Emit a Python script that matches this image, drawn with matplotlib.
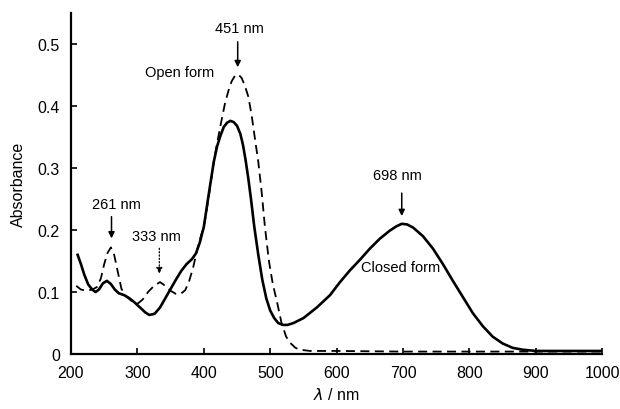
import matplotlib
matplotlib.use("Agg")
import matplotlib.pyplot as plt

plt.rcParams['font.family'] = ['Liberation Sans', 'DejaVu Sans']

# closed form (solid)
closed_wl = [210, 215, 220, 226, 232, 237, 242, 248, 254, 260, 266, 272, 280, 288,
             296, 304, 312, 318, 326, 334, 342, 350, 358, 366, 374, 382, 388, 394,
             400, 407, 415, 420, 425, 430, 435, 440, 445, 450, 455, 459, 463, 467,
             471, 476, 482, 488, 494, 500, 506, 512, 519, 526, 535, 550, 570, 590,
             605, 620, 635, 650, 665, 680, 690, 698, 706, 715, 730, 745, 760, 775,
             790, 805, 820, 835, 850, 865, 880, 900, 950, 1000]
closed_abs = [0.160, 0.145, 0.128, 0.112, 0.104, 0.100, 0.104, 0.114, 0.118, 0.113,
              0.104, 0.098, 0.095, 0.090, 0.083, 0.075, 0.067, 0.063, 0.065, 0.075,
              0.090, 0.105, 0.120, 0.134, 0.145, 0.153, 0.162, 0.180, 0.205, 0.255,
              0.310, 0.335, 0.352, 0.366, 0.373, 0.376, 0.374, 0.368, 0.355, 0.337,
              0.312, 0.283, 0.250, 0.205, 0.160, 0.120, 0.090, 0.070, 0.058, 0.050,
              0.047, 0.047, 0.050, 0.058, 0.075, 0.095, 0.116, 0.135, 0.152, 0.170,
              0.186, 0.199, 0.206, 0.210, 0.209, 0.204, 0.190, 0.170, 0.145, 0.118,
              0.092, 0.066, 0.045, 0.028, 0.017, 0.010, 0.007, 0.005, 0.005, 0.005]

# open form (dashed)
open_wl = [208, 215, 224, 232, 239, 245, 250, 255, 260, 265, 270, 276, 284, 292,
           300, 308, 316, 325, 334, 342, 350, 358, 365, 372, 378, 384, 390, 396,
           400, 407, 415, 420, 425, 432, 438, 442, 447, 452, 457, 462, 467, 472,
           477, 482, 487, 492, 498, 504, 510, 517, 524, 530, 538, 545, 560, 600,
           700, 800, 900, 1000]
open_abs = [0.110, 0.104, 0.102, 0.104, 0.108, 0.122, 0.145, 0.163, 0.172, 0.160,
            0.135, 0.105, 0.092, 0.085, 0.081, 0.088, 0.100, 0.110, 0.116, 0.110,
            0.102, 0.097, 0.097, 0.103, 0.118, 0.140, 0.168, 0.192, 0.205, 0.250,
            0.310, 0.340, 0.368, 0.405, 0.428, 0.440, 0.449, 0.451, 0.445, 0.432,
            0.415, 0.385, 0.347, 0.310, 0.262, 0.205, 0.150, 0.112, 0.085, 0.050,
            0.028, 0.018, 0.010, 0.007, 0.005, 0.005, 0.004, 0.004, 0.004, 0.004]

x_ticks = [200, 300, 400, 500, 600, 700, 800, 900, 1000]
y_ticks = [0, 0.1, 0.2, 0.3, 0.4, 0.5]
y_tick_labels = ['0', '0.1', '0.2', '0.3', '0.4', '0.5']

fig = plt.figure(figsize=(6.2, 4.1), dpi=100)
ax = fig.add_axes([0.1145, 0.134, 0.857, 0.832])

ax.plot(closed_wl, closed_abs, color='black', lw=1.9, solid_joinstyle='round')
ax.plot(open_wl, open_abs, color='black', lw=1.3, dashes=(5, 3))

ax.set_xlim(200, 1000)
ax.set_ylim(0, 0.55)
ax.set_xticks(x_ticks)
ax.set_yticks(y_ticks)
ax.set_yticklabels(y_tick_labels)
ax.spines['top'].set_visible(False)
ax.spines['right'].set_visible(False)
ax.spines['left'].set_linewidth(1.6)
ax.spines['bottom'].set_linewidth(1.6)
ax.tick_params(direction='in', length=4, width=1.2, labelsize=11.5, pad=8)

ax.set_ylabel("Absorbance", fontsize=11.5, labelpad=8)
ax.set_xlabel(r"$\lambda$ / nm", fontsize=11.5, labelpad=4)

# annotations
arrow = dict(arrowstyle='-|>', color='black', lw=1.1, mutation_scale=9)
ax.text(454, 0.526, "451 nm", ha='center', va='center', fontsize=10.5)
ax.annotate('', xy=(451, 0.458), xytext=(451, 0.508), arrowprops=arrow)
ax.text(363, 0.455, "Open form", ha='center', va='center', fontsize=10.5)

ax.text(268, 0.242, "261 nm", ha='center', va='center', fontsize=10.5)
ax.annotate('', xy=(261, 0.182), xytext=(261, 0.226), arrowprops=arrow)

ax.text(329, 0.190, "333 nm", ha='center', va='center', fontsize=10.5)
ax.annotate('', xy=(333, 0.125), xytext=(333, 0.175),
            arrowprops=dict(arrowstyle='-|>', color='black', lw=0.9,
                            mutation_scale=9, linestyle=':'))

ax.text(691, 0.288, "698 nm", ha='center', va='center', fontsize=10.5)
ax.annotate('', xy=(698, 0.218), xytext=(698, 0.264), arrowprops=arrow)
ax.text(697, 0.141, "Closed form", ha='center', va='center', fontsize=10.5)

fig.savefig("out.png", dpi=100)
